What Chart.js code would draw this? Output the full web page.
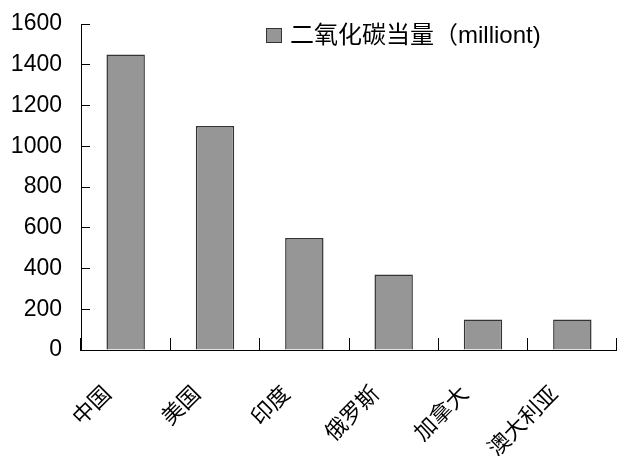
<!DOCTYPE html>
<html>
<head>
<meta charset="utf-8">
<script src="https://cdn.jsdelivr.net/npm/chart.js@4"></script>
<style>
  html, body { margin: 0; padding: 0; background: #fff; }
  #wrap { width: 617px; height: 456px; }
</style>
</head>
<body>
<div id="wrap"><canvas id="barchart" width="617" height="456"></canvas></div>
<script>
// данные с картинки
const countries = ["中国", "美国", "印度", "俄罗斯", "加拿大", "澳大利亚"];
const co2Values = [1450, 1100, 550, 370, 150, 150];
const seriesLabel = "二氧化碳当量（milliont)";
const yMin = 0;
const yMax = 1600;
const yStep = 200;

const barFill = "#969696";
const barBorder = "#333333";

// легенда внутри области графика
const insideLegend = {
  id: "insideLegend",
  afterDraw(chart) {
    const ctx = chart.ctx;
    const ds = chart.data.datasets[0];
    ctx.save();
    ctx.fillStyle = ds.backgroundColor;
    ctx.fillRect(266, 28, 16, 15);
    ctx.strokeStyle = ds.borderColor;
    ctx.lineWidth = 1;
    ctx.strokeRect(266.5, 28.5, 15, 14);
    ctx.fillStyle = "#000";
    ctx.font = '24px "Liberation Sans", "Noto Sans CJK SC", sans-serif';
    ctx.textBaseline = "middle";
    ctx.textAlign = "left";
    ctx.fillText(ds.label, 290, 36);
    ctx.restore();
  }
};

// убираем авто-отступы осей, чтобы область графика была как на картинке
function noPadding(scale) {
  scale.paddingLeft = 0;
  scale.paddingRight = 0;
  scale.paddingTop = 0;
  scale.paddingBottom = 0;
}

const ctx = document.getElementById("barchart").getContext("2d");
const barchart = new Chart(ctx, {
  type: "bar",
  data: {
    labels: countries,
    datasets: [{
      label: seriesLabel,
      data: co2Values,
      backgroundColor: barFill,
      borderColor: barBorder,
      borderWidth: 1.5,
      barPercentage: 0.43,
      categoryPercentage: 1
    }]
  },
  options: {
    responsive: false,
    animation: false,
    layout: {
      padding: { top: 24, right: 0, left: 0, bottom: 0 }
    },
    scales: {
      x: {
        offset: true,
        grid: {
          offset: true,
          drawOnChartArea: false,
          drawTicks: true,
          tickLength: -12,
          color: "#000",
          lineWidth: 1
        },
        border: { display: true, color: "#000", width: 1 },
        ticks: {
          minRotation: 45,
          maxRotation: 45,
          padding: 42,
          labelOffset: -19,
          color: "#000",
          font: { family: '"Noto Sans CJK SC", sans-serif', size: 22 }
        },
        afterFit(scale) { scale.height = 106; noPadding(scale); }
      },
      y: {
        min: yMin,
        max: yMax,
        ticks: {
          stepSize: yStep,
          padding: 28,
          color: "#000",
          font: { family: '"Liberation Sans", Arial, sans-serif', size: 23 },
          callback: (v) => String(v)
        },
        grid: {
          drawOnChartArea: false,
          drawTicks: true,
          tickLength: -9,
          color: "#000",
          lineWidth: 1
        },
        border: { display: true, color: "#000", width: 1 },
        afterFit(scale) { scale.width = 81; noPadding(scale); }
      }
    },
    plugins: {
      legend: { display: false },
      tooltip: { enabled: false }
    }
  },
  plugins: [insideLegend]
});
</script>
</body>
</html>
